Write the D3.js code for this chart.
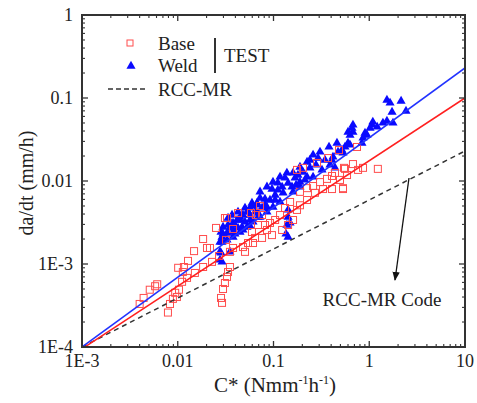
<!DOCTYPE html>
<html><head><meta charset="utf-8">
<script src="https://cdn.jsdelivr.net/npm/d3@7/dist/d3.min.js"></script>
<style>body{margin:0;background:#fff}svg{display:block}</style>
</head><body>
<script>
// ---- data ----
const baseC = [0.0040,0.0044,0.0051,0.0058,0.0061,0.0079,0.0083,0.0089,0.0098,0.0094,0.0103,0.0101,0.0116,0.0111,0.0113,0.0125,0.0128,0.0151,0.0148,0.0184,0.0184,0.0202,0.0217,0.0228,0.0251,0.0270,0.0283,0.0290,0.0297,0.0311,0.0327,0.0335,0.0351,0.0351,0.0378,0.0327,0.0426,0.0504,0.0542,0.0596,0.0641,0.0656,0.0689,0.0319,0.0378,0.0582,0.0723,0.0759,0.0815,0.0919,0.104,0.117,0.132,0.149,0.160,0.176,0.142,0.123,0.0964,0.0759,0.0611,0.0480,0.176,0.203,0.285,0.371,0.483,0.189,0.224,0.259,0.306,0.362,0.408,0.439,0.545,0.532,0.408,0.329,0.271,0.224,0.189,0.745,1.23,0.861,0.764,0.676,0.558,0.586,0.495,0.532,0.0855,0.0311];
const baseRate = [3.3e-4,3.9e-4,4.9e-4,5.4e-4,5.7e-4,2.6e-4,3.3e-4,3.8e-4,4.0e-4,4.5e-4,4.9e-4,9.0e-4,9.2e-4,6.1e-4,8.0e-4,6.8e-4,1.09e-3,7.8e-4,1.43e-3,2.0e-3,9.2e-4,1.56e-3,1.56e-3,1.06e-3,2.72e-3,1.25e-3,3.9e-4,3.4e-4,5.0e-4,5.9e-4,7.0e-4,8.0e-4,9.2e-4,1.40e-3,1.56e-3,3.58e-3,4.11e-3,1.40e-3,1.79e-3,2.43e-3,2.06e-3,3.89e-3,2.95e-3,1.95e-3,2.64e-3,4.11e-3,5.0e-3,3.89e-3,2.95e-3,3.12e-3,3.39e-3,3.89e-3,4.73e-3,5.59e-3,3.39e-3,4.48e-3,2.95e-3,2.57e-3,2.23e-3,2.06e-3,1.79e-3,1.60e-3,0.0136,0.0144,0.0165,0.0189,0.0236,7.4e-3,8.2e-3,8.7e-3,9.7e-3,0.0106,0.0115,0.0125,0.0144,8.0e-3,8.0e-3,8.0e-3,7.2e-3,5.9e-3,5.1e-3,0.0257,0.0140,0.0144,0.0136,0.0160,0.0140,0.0118,0.0103,8.2e-3,2.57e-3,3.58e-3];
const weldC = [0.0276,0.0276,0.0290,0.0283,0.0351,0.0276,0.0297,0.0369,0.0447,0.0542,0.0673,0.0815,0.0964,0.111,0.132,0.160,0.189,0.224,0.259,0.306,0.380,0.460,0.600,0.224,0.189,0.156,0.126,0.104,0.0855,0.0689,0.0569,0.0469,0.0378,0.142,0.138,0.135,0.142,0.0283,0.0297,0.0327,0.0351,0.0378,0.0416,0.0447,0.0480,0.0529,0.0569,0.0611,0.0673,0.0327,0.0378,0.0447,0.0529,0.0611,0.0689,0.0290,0.0290,1.53,1.65,2.15,2.42,1.73,1.77,1.53,1.39,1.09,1.07,1.21,1.02,0.903,0.948,0.861,0.839,0.676,0.661,0.676,0.630,0.600,0.558,0.519,0.472,0.418,0.408,0.439,0.138,0.117,0.0988,0.0855,0.0723,0.630,0.532,0.389,0.321,0.259,0.189,0.160,0.117,0.0988,0.0855,0.0723,0.142,0.149,
  0.0335,0.0396,0.0426,0.0504,0.0569,0.0641,0.0759,0.0815,0.0919,0.104,0.111,0.123,0.142,0.168,0.180,0.203,0.240,0.278,0.345,0.292,0.240,0.172,0.213,0.0335,0.0369,0.0426,0.0504,0.0596,0.0723,0.0396,0.0480,0.0569];
const weldRate = [1.12e-3,1.40e-3,1.06e-3,1.36e-3,1.40e-3,1.84e-3,2.30e-3,2.72e-3,3.39e-3,4.24e-3,5.14e-3,6.07e-3,8.0e-3,9.5e-3,0.0109,0.0125,0.0147,0.0169,0.0206,0.0224,0.0257,0.0287,0.0389,0.0112,9.7e-3,8.5e-3,7.2e-3,5.9e-3,4.86e-3,4.11e-3,3.39e-3,2.79e-3,2.43e-3,3.68e-3,2.95e-3,2.30e-3,4.48e-3,2.43e-3,2.79e-3,2.36e-3,2.72e-3,3.12e-3,3.39e-3,3.68e-3,3.89e-3,4.24e-3,4.73e-3,5.0e-3,5.43e-3,1.95e-3,2.11e-3,2.43e-3,2.79e-3,3.21e-3,3.68e-3,2.11e-3,1.84e-3,0.0946,0.0871,0.0920,0.0697,0.0678,0.0500,0.0528,0.0500,0.0514,0.0473,0.0448,0.0435,0.0378,0.0358,0.0330,0.0287,0.0473,0.0435,0.0389,0.0358,0.0287,0.0257,0.0236,0.0224,0.0195,0.0179,0.0144,0.0125,0.0112,9.7e-3,8.5e-3,7.4e-3,0.0272,0.0218,0.0156,0.0136,0.0112,8.5e-3,7.4e-3,5.6e-3,4.86e-3,4.24e-3,3.68e-3,2.11e-3,3.12e-3,
  2.95e-3,2.95e-3,2.72e-3,3.21e-3,3.89e-3,4.24e-3,4.73e-3,5.14e-3,5.9e-3,6.78e-3,7.8e-3,8.47e-3,9.46e-3,0.0109,0.0118,0.0128,0.0144,0.0156,0.0179,0.0189,0.0179,8.95e-3,0.0103,3.58e-3,3.89e-3,4.24e-3,4.73e-3,5.43e-3,6.24e-3,2.30e-3,2.57e-3,2.87e-3];
// fitted lines (end points)
const fitC = [1e-3, 10];
const weldFit = [1e-4, 0.23];
const baseFit = [0.95e-4, 0.10];
const rccFit = [1e-4, 0.023];
const xTicks = [1e-3, 0.01, 0.1, 1, 10];
const xTickLabels = ["1E-3", "0.01", "0.1", "1", "10"];
const yTicks = [1e-4, 1e-3, 0.01, 0.1, 1];
const yTickLabels = ["1E-4", "1E-3", "0.01", "0.1", "1"];

const W = 477, H = 403;
const m = {l: 82, t: 15, r: 465, b: 347};
const font = "'Liberation Serif','Times New Roman',serif";
const svg = d3.select("body").append("svg").attr("width", W).attr("height", H);
const x = d3.scaleLog().domain([1e-3, 10]).range([m.l, m.r]);
const y = d3.scaleLog().domain([1e-4, 1]).range([m.b, m.t]);

svg.append("clipPath").attr("id","clip").append("rect")
  .attr("x", m.l).attr("y", m.t).attr("width", m.r - m.l).attr("height", m.b - m.t);

const plot = svg.append("g").attr("clip-path","url(#clip)");

// points
const triSym = d3.symbol().type(d3.symbolTriangle).size(36);
plot.append("g").selectAll("path").data(weldC.map((c,i)=>[c, weldRate[i]])).join("path")
  .attr("d", triSym).attr("transform", d=>`translate(${x(d[0])},${y(d[1])})`)
  .attr("fill", "#0a0aff");
plot.append("g").selectAll("rect").data(baseC.map((c,i)=>[c, baseRate[i]])).join("rect")
  .attr("x", d=>x(d[0])-3.5).attr("y", d=>y(d[1])-3.5).attr("width", 7).attr("height", 7)
  .attr("fill","none").attr("stroke","#ff4d4d").attr("stroke-width",1);

// lines
const line = d3.line().x(d=>x(d[0])).y(d=>y(d[1]));
plot.append("path").attr("d", line(fitC.map((c,i)=>[c, rccFit[i]]))).attr("fill","none")
  .attr("stroke","#333").attr("stroke-width",1.5).attr("stroke-dasharray","5,4");
plot.append("path").attr("d", line(fitC.map((c,i)=>[c, baseFit[i]]))).attr("fill","none")
  .attr("stroke","#ff2020").attr("stroke-width",1.5);
plot.append("path").attr("d", line(fitC.map((c,i)=>[c, weldFit[i]]))).attr("fill","none")
  .attr("stroke","#2233ff").attr("stroke-width",1.5);

// axes
const axCol = "#333";
function minorTicks(dom){
  const out=[]; for(let e=Math.log10(dom[0]); e<Math.log10(dom[1]); e++){ for(let k=2;k<=9;k++) out.push(k*Math.pow(10,e)); } return out;
}
const xMinor = minorTicks([1e-3,10]), yMinor = minorTicks([1e-4,1]);
const axG = svg.append("g").attr("stroke", axCol);
xTicks.forEach(v=>{
  axG.append("line").attr("x1",x(v)).attr("x2",x(v)).attr("y1",m.b).attr("y2",m.b-6).attr("stroke-width",1.3);
  axG.append("line").attr("x1",x(v)).attr("x2",x(v)).attr("y1",m.t).attr("y2",m.t+6).attr("stroke-width",1.3);
});
xMinor.forEach(v=>{
  axG.append("line").attr("x1",x(v)).attr("x2",x(v)).attr("y1",m.b).attr("y2",m.b-3).attr("stroke-width",1.1);
  axG.append("line").attr("x1",x(v)).attr("x2",x(v)).attr("y1",m.t).attr("y2",m.t+3).attr("stroke-width",1.1);
});
yTicks.forEach(v=>{
  axG.append("line").attr("y1",y(v)).attr("y2",y(v)).attr("x1",m.l).attr("x2",m.l+6).attr("stroke-width",1.3);
  axG.append("line").attr("y1",y(v)).attr("y2",y(v)).attr("x1",m.r).attr("x2",m.r-6).attr("stroke-width",1.3);
});
yMinor.forEach(v=>{
  axG.append("line").attr("y1",y(v)).attr("y2",y(v)).attr("x1",m.l).attr("x2",m.l+3).attr("stroke-width",1.1);
  axG.append("line").attr("y1",y(v)).attr("y2",y(v)).attr("x1",m.r).attr("x2",m.r-3).attr("stroke-width",1.1);
});
svg.append("rect").attr("x",m.l).attr("y",m.t).attr("width",m.r-m.l).attr("height",m.b-m.t)
  .attr("fill","none").attr("stroke",axCol).attr("stroke-width",2);

// tick labels
svg.append("g").selectAll("text").data(xTicks).join("text")
  .attr("x", d=>x(d)).attr("y", 367).attr("text-anchor","middle")
  .attr("font-family",font).attr("font-size",18).attr("fill","#222")
  .text((d,i)=>xTickLabels[i]);
svg.append("g").selectAll("text").data(yTicks).join("text")
  .attr("x", 73).attr("y", d=>y(d)+6).attr("text-anchor","end")
  .attr("font-family",font).attr("font-size",18).attr("fill","#222")
  .text((d,i)=>yTickLabels[i]);

// axis titles
const xt = svg.append("text").attr("x",275).attr("y",392).attr("text-anchor","middle")
  .attr("font-family",font).attr("font-size",21).attr("fill","#222");
xt.append("tspan").text("C* (Nmm");
xt.append("tspan").attr("font-size",12).attr("dy",-8).text("-1");
xt.append("tspan").attr("dy",8).text("h");
xt.append("tspan").attr("font-size",12).attr("dy",-8).text("-1");
xt.append("tspan").attr("dy",8).text(")");
svg.append("text").attr("transform","translate(33,183) rotate(-90)").attr("text-anchor","middle")
  .attr("font-family",font).attr("font-size",20).attr("fill","#222").text("da/dt (mm/h)");

// legend
const lg = svg.append("g").attr("font-family",font).attr("font-size",19).attr("fill","#222");
lg.append("rect").attr("x",127).attr("y",40).attr("width",6).attr("height",6).attr("fill","none").attr("stroke","#ff4d4d");
lg.append("text").attr("x",158).attr("y",50).text("Base");
lg.append("path").attr("d",triSym).attr("transform","translate(131,66)").attr("fill","#0a0aff");
lg.append("text").attr("x",158).attr("y",72).text("Weld");
lg.append("line").attr("x1",215).attr("x2",215).attr("y1",38).attr("y2",73).attr("stroke","#333").attr("stroke-width",2);
lg.append("text").attr("x",224).attr("y",62).text("TEST");
lg.append("line").attr("x1",108).attr("x2",148).attr("y1",89).attr("y2",89).attr("stroke","#333").attr("stroke-width",1.5).attr("stroke-dasharray","5,3");
lg.append("text").attr("x",158).attr("y",96).text("RCC-MR");

// annotation
svg.append("defs").append("marker").attr("id","arr").attr("viewBox","0 0 10 10").attr("refX",9).attr("refY",5)
  .attr("markerWidth",7).attr("markerHeight",7).attr("orient","auto")
  .append("path").attr("d","M0,1 L10,5 L0,9 Z").attr("fill","#111");
svg.append("line").attr("x1",409).attr("y1",178).attr("x2",395).attr("y2",280)
  .attr("stroke","#111").attr("stroke-width",1.3).attr("marker-end","url(#arr)");
svg.append("text").attr("x",382).attr("y",306).attr("text-anchor","middle")
  .attr("font-family",font).attr("font-size",19).attr("fill","#222").text("RCC-MR Code");
</script>
</body></html>
